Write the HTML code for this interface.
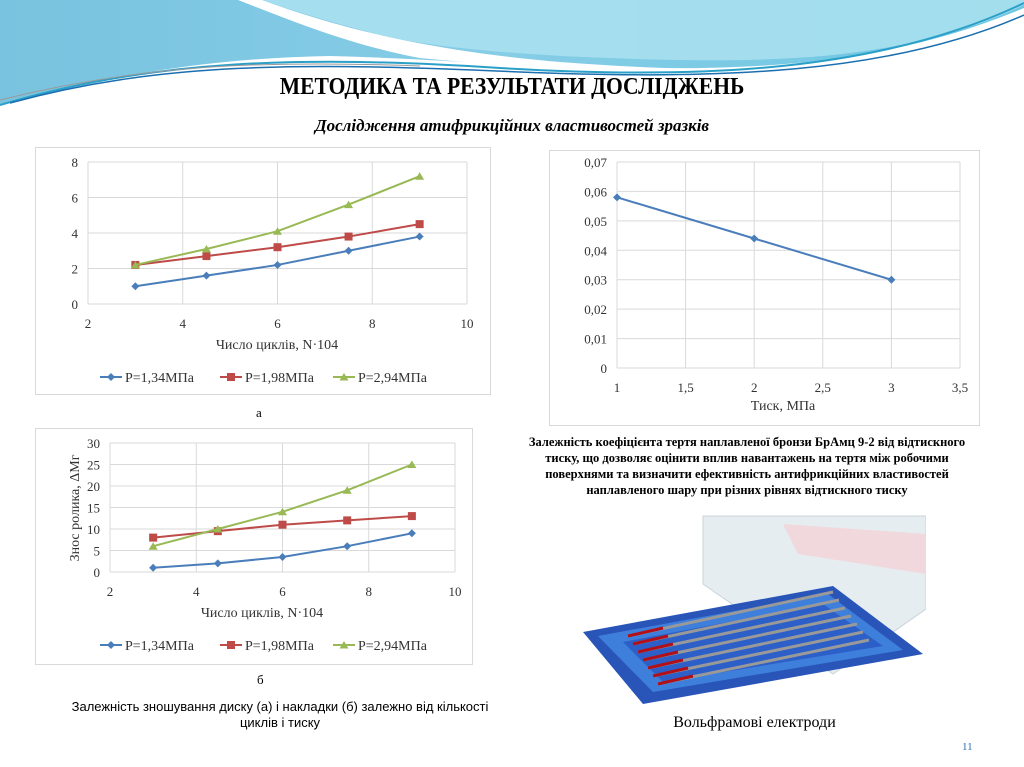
<!DOCTYPE html>
<html><head><meta charset="utf-8"><style>
body{margin:0;width:1024px;height:767px;background:#fff;position:relative;overflow:hidden;font-family:"Liberation Serif",serif}
.box{position:absolute;border:1px solid #d9d9d9;background:#fff}
.t{position:absolute;color:#000;font-family:"Liberation Serif",serif}
</style></head><body>
<svg width="1024" height="110" style="position:absolute;left:0;top:0">
<defs><linearGradient id="g1" x1="0" x2="1"><stop offset="0" stop-color="#79c3e0"/><stop offset="0.5" stop-color="#86cde6"/><stop offset="1" stop-color="#6cc6e2"/></linearGradient></defs>
<path d="M0,0 H1024 V8 C900,60 780,70 640,68 C500,66 420,58 330,56 C200,58 90,80 0,105 Z" fill="url(#g1)"/>
<path d="M238,0 H262 C330,25 420,50 560,62 C640,68 700,70 740,68 C620,72 520,68 420,58 C350,45 290,20 238,0Z" fill="#fff"/>
<path d="M262,0 H1024 V5 C920,55 800,62 680,60 C560,58 440,50 380,35 C330,22 290,10 262,0Z" fill="#a8e0ee" opacity="0.9"/>
<path d="M0,105 C150,60 300,55 500,68 C700,80 880,72 1024,3" stroke="#2aa0c8" stroke-width="2" fill="none"/>
<path d="M10,103 C160,62 300,62 520,72 C720,80 890,74 1024,15" stroke="#1b6fb0" stroke-width="1.5" fill="none"/>
<path d="M0,100 C140,65 260,60 420,66" stroke="#999" stroke-width="1" fill="none"/>
</svg>
<div class="t" style="left:0;width:1024px;top:74px;text-align:center;font-size:24px;font-weight:bold;transform:scaleX(0.9)">МЕТОДИКА ТА РЕЗУЛЬТАТИ ДОСЛІДЖЕНЬ</div>
<div class="t" style="left:0;width:1024px;top:116px;text-align:center;font-size:17px;font-weight:bold;font-style:italic">Дослідження атифрикційних властивостей зразків</div>

<div class="box" style="left:35px;top:147px;width:454px;height:246px"></div>
<div class="box" style="left:35px;top:428px;width:436px;height:235px"></div>
<div class="box" style="left:549px;top:150px;width:429px;height:274px"></div>
<svg id="s" width="1024" height="767" style="position:absolute;left:0;top:0"></svg>

<div class="t" style="left:256px;top:405px;font-size:13px">а</div>
<div class="t" style="left:257px;top:672px;font-size:13px">б</div>
<div class="t" style="left:55px;width:450px;top:699px;text-align:center;font-size:13px;font-family:'Liberation Sans',sans-serif;line-height:16px">Залежність зношування диску (а) і накладки (б) залежно від кількості циклів і тиску</div>
<div class="t" style="left:512px;width:470px;top:434px;text-align:center;font-size:12.5px;font-weight:bold;line-height:16px">Залежність коефіцієнта тертя наплавленої бронзи БрАмц 9-2 від відтискного тиску, що дозволяє оцінити вплив навантажень на тертя між робочими поверхнями та визначити ефективність антифрикційних властивостей наплавленого шару при різних рівнях відтискного тиску</div>

<svg width="343" height="192" style="position:absolute;left:583px;top:514px">
<rect width="343" height="192" fill="#fff"/>
<polygon points="120,2 343,2 343,95 250,160 120,70" fill="#e6edf1" stroke="#c9d3da"/>
<polygon points="200,10 343,20 343,60 215,40" fill="#f0d8dc"/>
<polygon points="0,118 250,72 340,140 60,190" fill="#2a55b8"/>
<polygon points="15,122 245,80 320,136 70,178" fill="#3f7fdc"/>
<polygon points="40,128 240,90 300,132 80,168" fill="#2c5fc8"/>
<g stroke-width="3">
<line x1="45" y1="122" x2="250" y2="78" stroke="#999"/><line x1="50" y1="130" x2="256" y2="86" stroke="#999"/>
<line x1="55" y1="138" x2="262" y2="94" stroke="#999"/><line x1="60" y1="146" x2="268" y2="102" stroke="#999"/>
<line x1="65" y1="154" x2="274" y2="110" stroke="#999"/><line x1="70" y1="162" x2="280" y2="118" stroke="#999"/>
<line x1="75" y1="170" x2="286" y2="126" stroke="#999"/>
<line x1="45" y1="122" x2="80" y2="114" stroke="#b0101a"/><line x1="50" y1="130" x2="85" y2="122" stroke="#b0101a"/>
<line x1="55" y1="138" x2="90" y2="130" stroke="#b0101a"/><line x1="60" y1="146" x2="95" y2="138" stroke="#b0101a"/>
<line x1="65" y1="154" x2="100" y2="146" stroke="#b0101a"/><line x1="70" y1="162" x2="105" y2="154" stroke="#b0101a"/>
<line x1="75" y1="170" x2="110" y2="162" stroke="#b0101a"/>
</g>
</svg>
<div class="t" style="left:583px;width:343px;top:714px;text-align:center;font-size:16px">Вольфрамові електроди</div>
<div class="t" style="left:962px;top:741px;font-size:11px;color:#2a6fb5">11</div>

<script>
// Chart A
const aX=[3,4.5,6,7.5,9];
const aBlue=[1,1.6,2.2,3,3.8];
const aRed=[2.2,2.7,3.2,3.8,4.5];
const aGreen=[2.2,3.1,4.1,5.6,7.2];
const aYTicks=[0,2,4,6,8];
const aXTicks=[2,4,6,8,10];
// Chart B
const bX=[3,4.5,6,7.5,9];
const bBlue=[1,2,3.5,6,9];
const bRed=[8,9.5,11,12,13];
const bGreen=[6,10,14,19,25];
const bYTicks=[0,5,10,15,20,25,30];
const bXTicks=[2,4,6,8,10];
// Chart friction
const fX=[1,2,3];
const fY=[0.058,0.044,0.03];
const fYTicks=[0,0.01,0.02,0.03,0.04,0.05,0.06,0.07];
const fXTicks=[1,1.5,2,2.5,3,3.5];
const legendNames=["P=1,34МПа","P=1,98МПа","P=2,94МПа"];

const NS="http://www.w3.org/2000/svg";
const svg=document.getElementById('s');
function mk(tag,at,name){const e=document.createElementNS(NS,tag);for(const k in at)e.setAttribute(k,at[k]);


svg.appendChild(e);return e;}
function txt(x,y,s,name,o){const e=mk('text',Object.assign({x:x,y:y,'font-size':13,'font-family':'Liberation Serif,serif',fill:'#333','text-anchor':'middle'},o||{}),name);e.textContent=s;return e;}
function fmt(v){return String(+v.toFixed(3)).replace('.',',');}
function marker(t,x,y,c,name){
 if(t==0)mk('polygon',{points:`${x},${y-4} ${x+4},${y} ${x},${y+4} ${x-4},${y}`,fill:c},name);
 else if(t==1)mk('rect',{x:x-4,y:y-4,width:8,height:8,fill:c},name);
 else mk('polygon',{points:`${x},${y-4} ${x+4.5},${y+3.5} ${x-4.5},${y+3.5}`,fill:c},name);}
const cols=['#4a7ebb','#be4b48','#98b954'];
function chart(p,xs,series,yT,xT,pref){
 const sx=v=>p.x0+(v-xT[0])/(xT[xT.length-1]-xT[0])*(p.x1-p.x0);
 const sy=v=>p.y0-(v-yT[0])/(yT[yT.length-1]-yT[0])*(p.y0-p.y1);
 yT.forEach(v=>{mk('line',{x1:p.x0,x2:p.x1,y1:sy(v),y2:sy(v),stroke:'#d9d9d9'},pref+'-gridline-y');
  txt(p.x0-(p.ylw||10),sy(v)+5,p.fmt?fmt(v):v,pref+'-y-tick',{'text-anchor':'end'});});
 xT.forEach(v=>{mk('line',{x1:sx(v),x2:sx(v),y1:p.y0,y2:p.y1,stroke:'#d9d9d9'},pref+'-gridline-x');
  txt(sx(v),p.y0+24,p.fmt?fmt(v):v,pref+'-x-tick');});
 series.forEach((s,i)=>{const c=p.cols?p.cols[i]:cols[i];
  mk('polyline',{points:xs.map((x,j)=>sx(x)+','+sy(s[j])).join(' '),fill:'none',stroke:c,'stroke-width':2},pref+'-line-'+i);
  xs.forEach((x,j)=>marker(p.mk?p.mk[i]:i,sx(x),sy(s[j]),c,pref+'-point-'+i));});
}
chart({x0:88,x1:467,y0:304,y1:162},aX,[aBlue,aRed,aGreen],aYTicks,aXTicks,'chart-a');
txt(277,349,'Число циклів, N·104','chart-a-x-title',{'font-size':14});
chart({x0:110,x1:455,y0:572,y1:443},bX,[bBlue,bRed,bGreen],bYTicks,bXTicks,'chart-b');
txt(262,617,'Число циклів, N·104','chart-b-x-title',{'font-size':14});
txt(0,0,'Знос ролика, ΔМг','chart-b-y-title',{'font-size':14,transform:'translate(79,508) rotate(-90)'});
chart({x0:617,x1:960,y0:368,y1:162,fmt:1,cols:['#4a7ebb'],mk:[0]},fX,[fY],fYTicks,fXTicks,'chart-friction');
txt(783,410,'Тиск, МПа','chart-friction-x-title',{'font-size':14});
function legend(y,pref){const xs=[100,220,333];legendNames.forEach((n,i)=>{
 mk('line',{x1:xs[i],x2:xs[i]+22,y1:y,y2:y,stroke:cols[i],'stroke-width':2},pref+'-legend-line');
 marker(i,xs[i]+11,y,cols[i],pref+'-legend-marker');
 txt(xs[i]+25,y+5,n,pref+'-legend-entry',{'text-anchor':'start','font-size':14});});}
legend(377,'chart-a');legend(645,'chart-b');
</script>
</body></html>
